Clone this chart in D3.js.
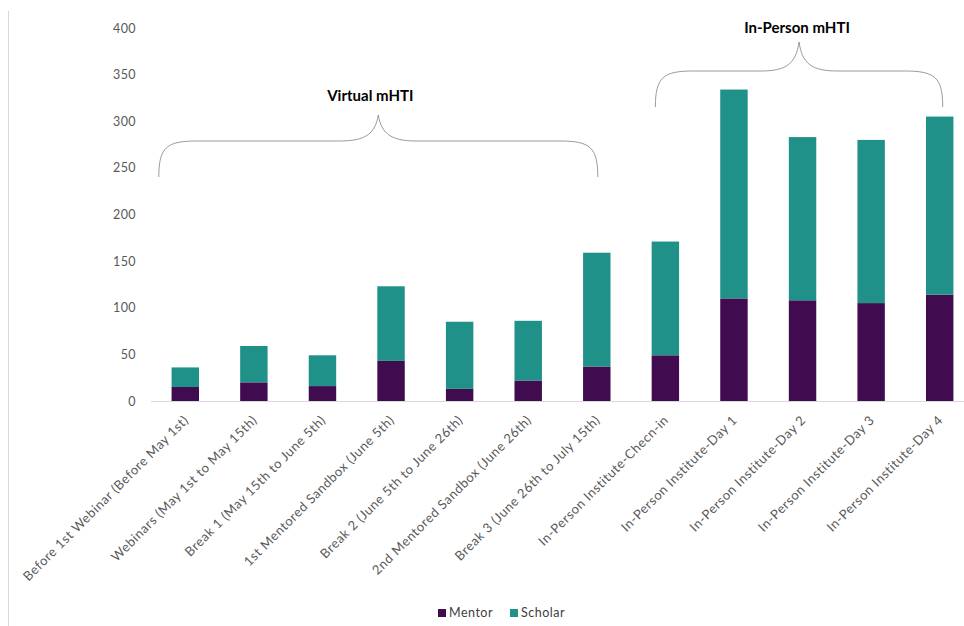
<!DOCTYPE html>
<html>
<head>
<meta charset="utf-8">
<script src="https://cdn.jsdelivr.net/npm/d3@7"></script>
<style>
  html, body { margin: 0; padding: 0; background: #fff; }
  svg { display: block; }
  text { font-family: Lato, "Open Sans", sans-serif; }
</style>
</head>
<body>
<svg id="chart" width="964" height="626"></svg>
<script>
const categories = [
  "Before 1st Webinar (Before May 1st)",
  "Webinars (May 1st to May 15th)",
  "Break 1 (May 15th to June 5th)",
  "1st Mentored Sandbox (June 5th)",
  "Break 2 (June 5th to June 26th)",
  "2nd Mentored Sandbox (June 26th)",
  "Break 3 (June 26th to July 15th)",
  "In-Person Institute-Checn-in",
  "In-Person Institute-Day 1",
  "In-Person Institute-Day 2",
  "In-Person Institute-Day 3",
  "In-Person Institute-Day 4"
];
const mentor  = [15, 20, 16, 43, 13, 22, 37, 49, 110, 108, 105, 114];
const scholar = [21, 39, 33, 80, 72, 64, 122, 122, 224, 175, 175, 191];
const seriesNames = ["Mentor", "Scholar"];
const seriesColors = ["#400c4f", "#1f9189"];
const yTicks = [0, 50, 100, 150, 200, 250, 300, 350, 400];
const groups = [
  { label: "Virtual mHTI", from: 0, to: 6 },
  { label: "In-Person mHTI", from: 7, to: 11 }
];

const svg = d3.select("#chart");

const x = d3.scaleBand().domain(categories).range([151, 974]).paddingInner(0.6).paddingOuter(0.3);
const y = d3.scaleLinear().domain([0, 400]).range([401, 28]);

// chart border (left edge)
svg.append("line").attr("x1", 8.5).attr("x2", 8.5).attr("y1", 11).attr("y2", 626)
  .attr("stroke", "#d9d9d9").attr("stroke-width", 1);

// y axis labels
const yAxis = d3.axisLeft(y).tickValues(yTicks).tickSize(0).tickPadding(0);
const yg = svg.append("g").attr("transform", "translate(136,0)").call(yAxis);
yg.select(".domain").remove();
yg.selectAll("text").attr("font-size", 12.5).attr("fill", "#595959")
  .attr("letter-spacing", 0.4)
  .attr("font-family", "Lato, 'Open Sans', sans-serif");

// stacked data
const data = categories.map((c, i) => ({ cat: c, Mentor: mentor[i], Scholar: scholar[i] }));
const stack = d3.stack().keys(seriesNames)(data);

svg.append("g").selectAll("g").data(stack).join("g")
  .attr("fill", (d, i) => seriesColors[i])
  .selectAll("rect").data(d => d).join("rect")
  .attr("x", d => x(d.data.cat))
  .attr("width", x.bandwidth())
  .attr("y", d => y(d[1]))
  .attr("height", d => y(d[0]) - y(d[1]));

// baseline
svg.append("line").attr("x1", 151).attr("x2", 974).attr("y1", y(0) + 0.5).attr("y2", y(0) + 0.5)
  .attr("stroke", "#d9d9d9").attr("stroke-width", 1);

// x labels
const xg = svg.append("g");
categories.forEach(c => {
  const cx = x(c) + x.bandwidth() / 2 + 4;
  xg.append("text")
    .attr("transform", `translate(${cx},${y(0) + 20}) rotate(-45)`)
    .attr("text-anchor", "end")
    .attr("font-size", 13)
    .attr("letter-spacing", 0.55)
    .attr("fill", "#595959")
    .text(c);
});

// braces
const braceY = [{ end: 177, h: 141, peak: 115, text: 101 }, { end: 107, h: 71, peak: 42, text: 33 }];
const braceOff = [[-26.5, 1], [-10, 3]];
groups.forEach((g, gi) => {
  const x1 = x(categories[g.from]) + x.bandwidth() / 2 + braceOff[gi][0];
  const x2 = x(categories[g.to]) + x.bandwidth() / 2 + braceOff[gi][1];
  const m = (x1 + x2) / 2;
  const b = braceY[gi];
  const r = 38;
  const p = d3.path();
  p.moveTo(x1, b.end);
  p.bezierCurveTo(x1, b.h + 6, x1 + 8, b.h, x1 + r, b.h);
  p.lineTo(m - r, b.h);
  p.bezierCurveTo(m - 12, b.h, m - 3, b.h - 8, m, b.peak);
  p.bezierCurveTo(m + 3, b.h - 8, m + 12, b.h, m + r, b.h);
  p.lineTo(x2 - r, b.h);
  p.bezierCurveTo(x2 - 8, b.h, x2, b.h + 6, x2, b.end);
  svg.append("path").attr("d", p.toString()).attr("fill", "none")
    .attr("stroke", "#808080").attr("stroke-width", 0.8);
  svg.append("text").attr("x", m - (gi === 0 ? 8 : 2)).attr("y", b.text)
    .attr("text-anchor", "middle").attr("font-size", 15).attr("font-weight", "bold")
    .attr("fill", "#000").text(g.label);
});

// legend
const legend = svg.append("g").attr("transform", "translate(438,617)");
const legX = [0, 72];
seriesNames.forEach((s, i) => {
  legend.append("rect").attr("x", legX[i]).attr("y", -8).attr("width", 8).attr("height", 8)
    .attr("fill", seriesColors[i]);
  legend.append("text").attr("x", legX[i] + 11).attr("y", 0)
    .attr("font-size", 12.5).attr("letter-spacing", 0.5).attr("fill", "#404040").text(s);
});
</script>
</body>
</html>
